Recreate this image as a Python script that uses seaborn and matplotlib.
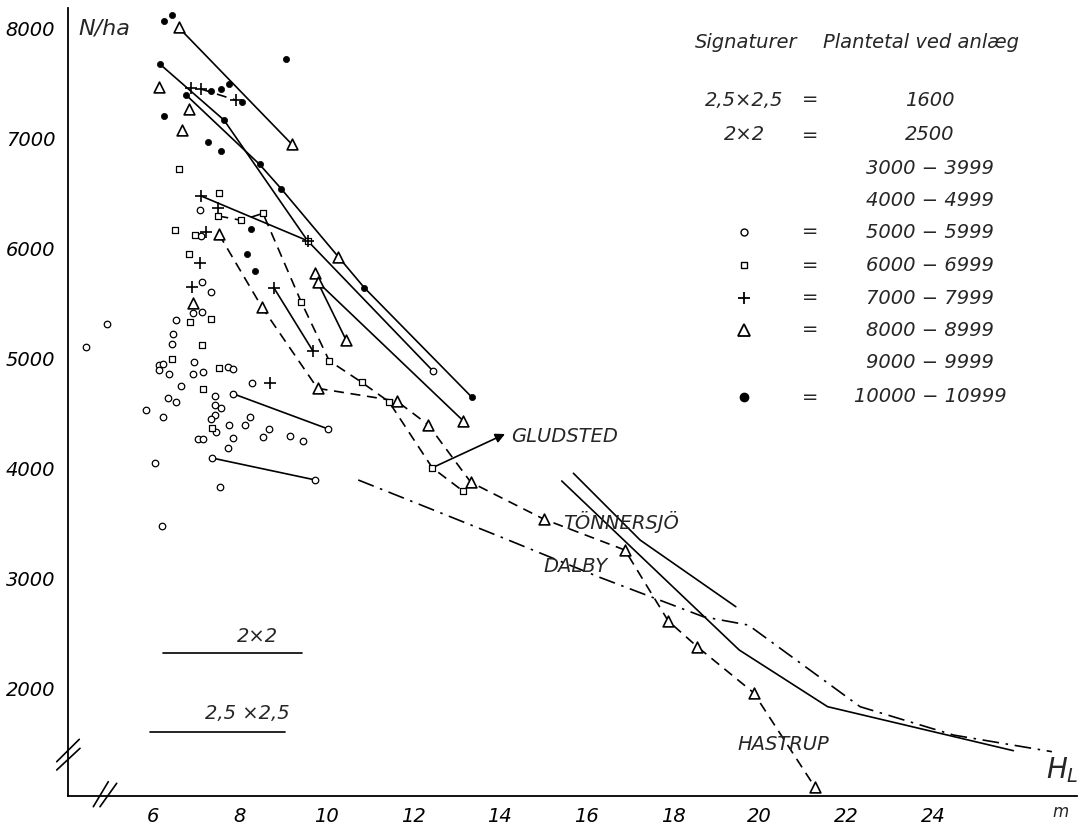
import matplotlib
matplotlib.use("Agg")
import matplotlib.pyplot as plt
from matplotlib.lines import Line2D
import seaborn as sns

# ---------------- data ----------------
# o = 5000-5999 plants/ha at planting
circle_x = [4.92, 4.44, 7.12, 7.33, 6.92, 7.13, 6.53, 6.45, 6.43, 6.12, 6.22, 6.14, 6.35, 6.93,
            6.92, 7.15, 7.73, 7.83, 6.63, 8.27, 6.33, 6.53, 7.43, 7.43, 7.55, 5.82, 6.23, 7.43,
            7.33, 7.74, 8.12, 8.24, 7.44, 7.84, 7.03, 7.14, 7.73, 8.67, 8.54, 9.16, 9.45, 6.04,
            7.54, 7.84, 10.04, 7.35, 9.74, 7.08, 7.10, 6.20, 12.45]
circle_y = [5312, 5105, 5697, 5606, 5415, 5424, 5348, 5218, 5127, 4942, 4951, 4891, 4855, 4964,
            4857, 4875, 4924, 4906, 4748, 4773, 4636, 4603, 4660, 4575, 4548, 4530, 4469, 4485,
            4448, 4394, 4394, 4469, 4327, 4278, 4269, 4269, 4185, 4357, 4282, 4296, 4248, 4051,
            3833, 4678, 4357, 4094, 3894, 6348, 6115, 3480, 4887]
# square = 6000-6999
square_x = [6.60, 7.52, 6.50, 6.96, 6.82, 6.85, 7.33, 7.13, 6.44, 7.52, 7.14, 7.35,
            7.50, 8.03, 8.53, 9.41, 10.06, 10.81, 11.44, 12.44, 13.14, 9.56]
square_y = [6718, 6500, 6166, 6118, 5948, 5327, 5355, 5121, 4991, 4909, 4721, 4369,
            6294, 6255, 6318, 5515, 4978, 4782, 4605, 4005, 3796, 6069]
# + = 7000-7999
plus_x = [6.86, 7.10, 7.90, 7.10, 7.48, 7.21, 7.08, 6.90, 8.70, 8.79, 9.68, 9.56]
plus_y = [7455, 7448, 7348, 6476, 6371, 6151, 5864, 5645, 4778, 5636, 5069, 6069]
# triangle = 8000-8999
tri_x = [6.58, 9.20, 6.13, 6.82, 6.65, 10.26, 9.73, 9.79, 10.45, 13.16, 6.91,
         7.51, 8.50, 9.79, 11.62, 12.35, 13.33, 15.01, 16.89, 17.89, 18.56, 19.86, 21.28]
tri_y = [8009, 6945, 7464, 7266, 7075, 5924, 5773, 5696, 5166, 4430, 5500,
         6130, 5469, 4727, 4612, 4394, 3873, 3539, 3257, 2612, 2378, 1960, 1100]
# filled dot = 10000-10999
dot_x = [6.43, 6.25, 9.06, 6.155, 6.755, 6.25, 7.63, 7.26, 7.55, 8.45, 8.95, 10.87, 13.35,
         7.33, 7.55, 7.75, 8.05, 8.26, 8.16, 8.35]
dot_y = [8121, 8069, 7721, 7673, 7394, 7200, 7166, 6966, 6885, 6764, 6542, 5642, 4648,
         7433, 7445, 7491, 7327, 6178, 5951, 5796]

# solid connecting lines
tri_top_x, tri_top_y = [6.58, 9.20], [8009, 6945]
dot_a_x = [6.755, 8.45, 8.95, 10.87, 13.35]
dot_a_y = [7394, 6764, 6542, 5642, 4648]
dot_b_x = [6.155, 7.63, 9.56, 12.45]
dot_b_y = [7673, 7166, 6069, 4887]
plus_1_x, plus_1_y = [7.10, 9.56], [6476, 6069]
plus_2_x, plus_2_y = [8.79, 9.68], [5636, 5069]
tri_2_x, tri_2_y = [9.79, 10.45], [5696, 5166]
tri_3_x, tri_3_y = [9.79, 13.16], [5696, 4430]
circ_1_x, circ_1_y = [7.84, 10.04], [4678, 4357]
circ_2_x, circ_2_y = [7.35, 9.74], [4094, 3894]
# dashed lines
plus_d_x, plus_d_y = [7.10, 7.90], [7448, 7348]
gludsted_x = [7.50, 8.03, 8.53, 9.41, 10.06, 10.81, 11.44, 12.44, 13.14]
gludsted_y = [6294, 6255, 6318, 5515, 4978, 4782, 4605, 4005, 3796]
hastrup_x = [7.51, 8.50, 9.79, 11.62, 12.35, 13.33, 15.01, 16.89, 17.89, 18.56, 19.86, 21.28]
hastrup_y = [6130, 5469, 4727, 4612, 4394, 3873, 3539, 3257, 2612, 2378, 1960, 1100]
# reference curves (right)
tonn_1_x = [15.43, 19.53, 21.57, 25.86]
tonn_1_y = [3885, 2348, 1833, 1433]
tonn_2_x = [15.70, 17.24, 19.45]
tonn_2_y = [3955, 3348, 2742]
dalby_x = [10.73, 11.70, 14.01, 16.32, 18.70, 19.74, 22.32, 24.48, 26.75]
dalby_y = [3894, 3742, 3378, 3007, 2651, 2575, 1833, 1575, 1424]
# spacing reference bars
bar_2x2_x, bar_2x2_y = [6.21, 9.44], [2324, 2324]
bar_25_x, bar_25_y = [5.93, 9.04], [1605, 1605]

x_ticks = [6, 8, 10, 12, 14, 16, 18, 20, 22, 24]
y_ticks = [2000, 3000, 4000, 5000, 6000, 7000, 8000]

legend_sizes = ["2,5×2,5", "2×2", "", "", "", "", "", "", "", ""]
legend_ranges = ["1600", "2500", "3000 − 3999", "4000 − 4999", "5000 − 5999",
                 "6000 − 6999", "7000 − 7999", "8000 − 8999", "9000 − 9999",
                 "10000 − 10999"]

# ---------------- style ----------------
sns.set_style("white")
plt.rcParams["font.family"] = ["DejaVu Sans"]
plt.rcParams["font.style"] = "italic"

W, H = 1089, 825
fig = plt.figure(figsize=(W / 100, H / 100), dpi=100)
ax = fig.add_axes([67.7 / W, 1 - 796 / H, (1077 - 67.7) / W, (796 - 8) / H])
ax.set_xlim(4.02, 27.33)
ax.set_ylim(1021, 8185)

LW = 1.2
def solid(x, y):
    sns.lineplot(x=x, y=y, sort=False, estimator=None, color="black", lw=LW, ax=ax)

def dashed(x, y):
    sns.lineplot(x=x, y=y, sort=False, estimator=None, color="black", lw=LW,
                 linestyle=(0, (6, 4)), ax=ax)

for xs, ys in [(tri_top_x, tri_top_y), (dot_a_x, dot_a_y), (dot_b_x, dot_b_y),
               (plus_1_x, plus_1_y), (plus_2_x, plus_2_y), (tri_2_x, tri_2_y),
               (tri_3_x, tri_3_y), (circ_1_x, circ_1_y), (circ_2_x, circ_2_y),
               (tonn_1_x, tonn_1_y), (tonn_2_x, tonn_2_y),
               (bar_2x2_x, bar_2x2_y), (bar_25_x, bar_25_y)]:
    solid(xs, ys)
for xs, ys in [(plus_d_x, plus_d_y), (gludsted_x, gludsted_y), (hastrup_x, hastrup_y)]:
    dashed(xs, ys)
sns.lineplot(x=dalby_x, y=dalby_y, sort=False, estimator=None, color="black", lw=LW,
             linestyle=(0, (10, 4, 1.5, 4)), ax=ax)

sns.scatterplot(x=circle_x, y=circle_y, marker="o", s=22, facecolor="white",
                edgecolor="black", linewidth=0.9, color="black", ax=ax, zorder=5)
sns.scatterplot(x=square_x, y=square_y, marker="s", s=18, facecolor="white",
                edgecolor="black", linewidth=0.9, color="black", ax=ax, zorder=5)
sns.scatterplot(x=plus_x, y=plus_y, marker="+", s=80, color="black", linewidth=1.2,
                ax=ax, zorder=5)
sns.scatterplot(x=tri_x, y=tri_y, marker="^", s=60, facecolor="white",
                edgecolor="black", linewidth=1.2, color="black", ax=ax, zorder=5)
sns.scatterplot(x=dot_x, y=dot_y, marker="o", s=20, color="black",
                edgecolor="black", linewidth=0.5, ax=ax, zorder=5)

# axes
sns.despine(ax=ax, top=True, right=True)
for sp in ("left", "bottom"):
    ax.spines[sp].set_linewidth(1.3)
    ax.spines[sp].set_color("black")
ax.set_xticks(x_ticks)
ax.set_xticklabels([str(v) for v in x_ticks])
ax.set_yticks(y_ticks)
ax.set_yticklabels([str(v) for v in y_ticks])
ax.tick_params(axis="both", direction="in", length=5, width=1, labelsize=14,
               colors="black")
ax.tick_params(axis="x", pad=8)
ax.tick_params(axis="y", pad=9)
ax.set_xlabel("")
ax.set_ylabel("")

# axis labels inside the frame
ax.text(4.26, 8000, "N/ha", fontsize=16, ha="left", va="center")
ax.text(26.62, 1257, r"$H_L$", fontsize=20, ha="left", va="center")
ax.text(26.95, 880, "m", fontsize=12, ha="center", va="center", clip_on=False)

# curve labels
ax.text(14.25, 4285, "GLUDSTED", fontsize=14, ha="left", va="center")
ax.text(15.46, 3512, "TÖNNERSJÖ", fontsize=14, ha="left", va="center")
ax.text(15.0, 3103, "DALBY", fontsize=14, ha="left", va="center")
ax.text(19.5, 1485, "HASTRUP", fontsize=14, ha="left", va="center")
ax.annotate("", xy=(14.12, 4312), xytext=(12.44, 4005),
            arrowprops=dict(arrowstyle="-|>", color="black", lw=1.2,
                            mutation_scale=14, shrinkA=0, shrinkB=0))
ax.text(8.40, 2475, "2×2", fontsize=14, ha="center", va="center")
ax.text(8.17, 1775, "2,5 ×2,5", fontsize=14, ha="center", va="center")

# legend block (figure pixel coords)
def fx(px):
    return px / W
def fy(py):
    return 1 - py / H

fig.text(fx(695), fy(43), "Signaturer", fontsize=14, ha="left", va="center")
fig.text(fx(823), fy(43), "Plantetal ved anlæg", fontsize=14, ha="left", va="center")
rows_y = [100, 135, 168, 200, 232, 265, 298, 330, 363, 397]
legend_marks = [None, None, None, None,
                dict(marker="o", ms=5, mfc="white", mec="black", mew=1),
                dict(marker="s", ms=4.5, mfc="white", mec="black", mew=1),
                dict(marker="+", ms=9, mec="black", mew=1.3),
                dict(marker="^", ms=8, mfc="white", mec="black", mew=1.3),
                None,
                dict(marker="o", ms=6, mfc="black", mec="black")]
for i, ry in enumerate(rows_y):
    if legend_sizes[i]:
        fig.text(fx(744), fy(ry), legend_sizes[i], fontsize=14, ha="center", va="center")
    if legend_marks[i] is not None:
        fig.add_artist(Line2D([fx(744)], [fy(ry)], linestyle="none",
                              transform=fig.transFigure, **legend_marks[i]))
    if legend_sizes[i] or legend_marks[i] is not None:
        fig.text(fx(810), fy(ry), "=", fontsize=14, ha="center", va="center")
    fig.text(fx(930), fy(ry), legend_ranges[i], fontsize=14, ha="center", va="center")

# axis break marks
for (x0, y0, x1, y1) in [(56.7, 761.7, 79.3, 739.3), (56.7, 770.0, 80.0, 748.3),
                         (93.3, 806.7, 108.3, 781.7), (100.0, 806.7, 116.7, 783.3)]:
    fig.add_artist(Line2D([fx(x0), fx(x1)], [fy(y0), fy(y1)], color="black", lw=1.2,
                          transform=fig.transFigure))

fig.savefig("out.png", dpi=100, facecolor="white")
